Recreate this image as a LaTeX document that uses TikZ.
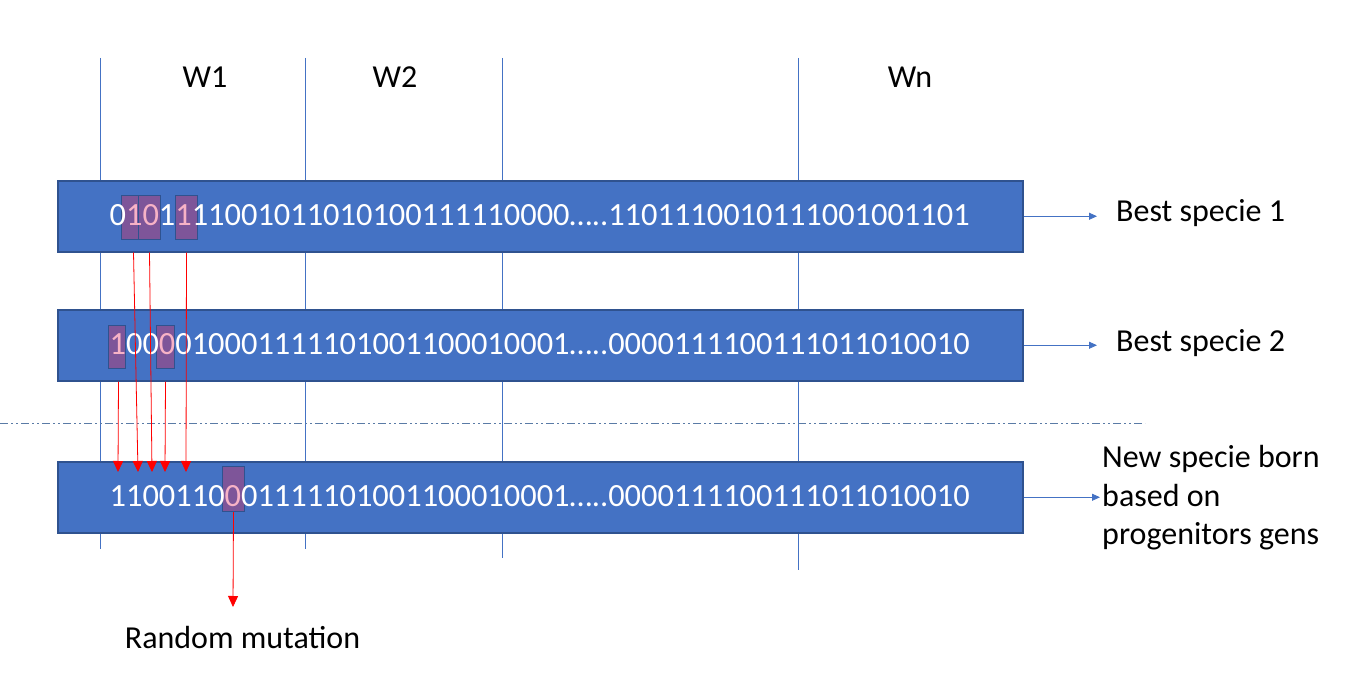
\documentclass[tikz,border=0pt]{standalone}
\usepackage{fontspec}
\setmainfont{Carlito}
\usetikzlibrary{arrows.meta,calc}
\definecolor{barblue}{HTML}{4472C4}
\definecolor{baredge}{HTML}{2F528F}
\definecolor{hlfill}{HTML}{7E5599}
\definecolor{hltext}{HTML}{F7B2C6}
\definecolor{dashc}{HTML}{5A7BA6}
\newcommand{\hlc}[1]{{\color{hltext}#1}}
\begin{document}
\begin{tikzpicture}[x=1pt,y=-1pt, font=\fontsize{32}{38.5}\selectfont,
 bar/.style={draw=baredge, line width=1.5pt, fill=barblue, minimum width=965pt, minimum height=71pt, inner sep=0, anchor=north west},
 bits/.style={text=white, inner sep=0, anchor=west, font=\fontsize{32.4}{38.5}\selectfont},
 hl/.style={draw=baredge, line width=1pt, fill=hlfill, inner sep=0, anchor=north west},
 wline/.style={draw=barblue, line width=0.8pt},
 bluearrow/.style={draw=barblue, line width=0.8pt, -{Triangle[length=8pt,width=7pt]}},
 redarrow/.style={draw=red, line width=0.8pt, -{Triangle[length=11pt,width=10pt]}},
 lbl/.style={inner sep=0, anchor=west}]
\useasboundingbox (0,0) rectangle (1363,698);
% window lines
\draw[wline] (100,58) -- (100,549);
\draw[wline] (305,58) -- (305,549);
\draw[wline] (502,58) -- (502,558);
\draw[wline] (798,58) -- (798,570);
\node[inner sep=0] (w1) at (205,77) {W1};
\node[inner sep=0] (w2) at (395,77) {W2};
\node[inner sep=0] (wn) at (910,77) {Wn};
% separator
\draw[dashc, line width=1pt, dash pattern=on 8pt off 3pt on 2pt off 3pt on 2pt off 3pt] (0,423) -- (1145,423);
% bars
\node[bar] (bar1) at (57,180) {};
\node[bar] (bar2) at (57,309) {};
\node[bar] (bar3) at (57,461) {};
% highlight boxes
\node[hl, minimum width=17pt, minimum height=44pt] (h11) at (121,195) {};
\node[hl, minimum width=22pt, minimum height=44pt] (h12) at (138,195) {};
\node[hl, minimum width=22pt, minimum height=44pt] (h13) at (175,195) {};
\node[hl, minimum width=17pt, minimum height=43pt] (h21) at (108,325) {};
\node[hl, minimum width=18pt, minimum height=43pt] (h22) at (156,325) {};
\node[hl, minimum width=22pt, minimum height=45pt] (h31) at (222,466) {};
% bit strings
\node[bits] (t1) at (109.5,215.5) {0\hlc{1}\hlc{0}1\hlc{1}11001011010100111110000…..1101110010111001001101};
\node[bits] (t2) at (109.5,344.5) {\hlc{1}00\hlc{0}010001111101001100010001…..0000111100111011010010};
\node[bits] (t3) at (109.5,496.5) {1100110\hlc{0}01111101001100010001…..0000111100111011010010};
% labels
\node[lbl] (lab1) at (1116,213) {Best specie 1};
\node[lbl] (lab2) at (1116,343) {Best specie 2};
\node[lbl, align=left] (lab3) at (1102,498) {New specie born\\based on\\progenitors gens};
\node[inner sep=0] (mut) at (242.5,638) {Random mutation};
% blue connectors
\draw[bluearrow, shorten >=19pt] (bar1.east) -- (bar1.east -| lab1.west);
\draw[bluearrow, shorten >=19pt] (bar2.east) -- (bar2.east -| lab2.west);
\draw[bluearrow, shorten >=2pt] (bar3.east) -- (bar3.east -| lab3.west);
% red crossover arrows
\coordinate (e1) at (118,472);
\coordinate (e2) at (138,472);
\coordinate (e3) at (152,472);
\coordinate (e4) at (165,472);
\coordinate (e5) at (186,472);
\coordinate (em) at (233,607);
\draw[redarrow] ($(h11.south |- bar1.south)+(3.5,0)$) -- (e2);
\draw[redarrow] (h12.south |- bar1.south) -- (e3);
\draw[redarrow] (h13.south |- bar1.south) -- (e5);
\draw[redarrow] ($(h21.south |- bar2.south)+(1.5,0)$) -- (e1);
\draw[redarrow] (h22.south |- bar2.south) -- (e4);
\draw[redarrow] (h31.south) -- (em);
\end{tikzpicture}
\end{document}
